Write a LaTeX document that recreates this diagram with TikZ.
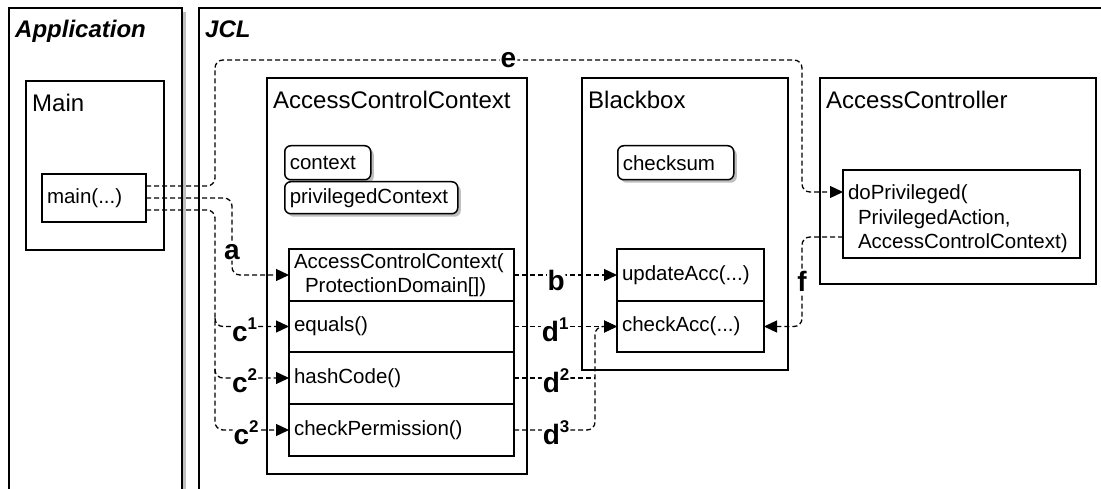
\documentclass[tikz,border=0pt]{standalone}
\usepackage{fontspec}
\setmainfont{Liberation Sans}
\usetikzlibrary{arrows.meta,calc,positioning,shadows}
\newcommand{\namefont}{\fontsize{24}{28}\selectfont}
\newcommand{\memberfont}{\fontsize{20.5}{24.5}\selectfont}
\newcommand{\flowfont}{\fontsize{28}{30}\selectfont\bfseries}
\newcommand{\flowsup}[1]{\raisebox{12pt}{\fontsize{17}{17}\selectfont#1}}

\begin{document}
\begin{tikzpicture}[x=1pt,y=-1pt,
  tierbox/.style={draw,line width=1.7pt,fill=white,anchor=north west,inner sep=0pt,
    drop shadow={shadow xshift=4pt,shadow yshift=-4pt,fill=black!25,opacity=1}},
  tiername/.style={anchor=base west,inner sep=0pt,font=\namefont\bfseries\itshape},
  classbox/.style={draw,line width=1.7pt,fill=white,anchor=north west,inner sep=0pt},
  classname/.style={anchor=base west,inner sep=0pt,font=\namefont},
  attrbox/.style={draw,line width=1.5pt,rounded corners=6pt,fill=white,anchor=north west,
    inner xsep=5pt,inner ysep=0pt,minimum height=34pt,align=left,font=\memberfont,
    drop shadow={shadow xshift=3pt,shadow yshift=-3pt,fill=black!25,opacity=1}},
  methodrow/.style={draw,line width=1.5pt,fill=white,anchor=north west,outer sep=0pt,
    inner xsep=5pt,inner ysep=0pt,align=left,font=\memberfont},
  flow/.style={line width=1.3pt,dash pattern=on 5pt off 3pt,rounded corners=8pt,
    -{Triangle[length=13pt,width=12pt]}},
  flowlabel/.style={fill=white,inner sep=1pt,font=\flowfont}]
  \useasboundingbox (0,0) rectangle (1101,489);

  % application and library tiers
  \node[tierbox,minimum width=173pt,minimum height=540pt] (app) at (8,7) {};
  \node[tierbox,minimum width=950pt,minimum height=540pt] (jcl) at (198,7) {};
  \node[tiername] at ($(app.north west)+(7,31)$) {Application};
  \node[tiername] at ($(jcl.north west)+(7,31)$) {JCL};

  % Main
  \node[classbox,minimum width=138pt,minimum height=169pt] (main) at (25,80) {};
  \node[classname] at ($(main.north west)+(7,32)$) {Main};
  \node[methodrow,text width=94pt,minimum height=48pt] (mainfn) at (42,174) {main(...)};

  % AccessControlContext
  \node[classbox,minimum width=260pt,minimum height=396pt] (acc) at (266,77) {};
  \node[classname] at ($(acc.north west)+(7,32)$) {AccessControlContext};
  \node[attrbox,text width=76pt] (ctx) at (284,145) {context};
  \node[attrbox,text width=163pt,minimum height=32pt] (pctx) at (284,181) {privilegedContext};
  \node[methodrow,text width=215pt,minimum height=52pt] (ctor) at (289,249)
    {AccessControlContext(\\\hspace*{11pt}ProtectionDomain[])};
  \node[methodrow,text width=215pt,minimum height=51pt,below=0pt of ctor] (equals) {equals()};
  \node[methodrow,text width=215pt,minimum height=52pt,below=0pt of equals] (hash) {hashCode()};
  \node[methodrow,text width=215pt,minimum height=52pt,below=0pt of hash] (chkperm) {checkPermission()};

  % Blackbox
  \node[classbox,minimum width=206pt,minimum height=292pt] (bb) at (581,77) {};
  \node[classname] at ($(bb.north west)+(7,32)$) {Blackbox};
  \node[attrbox,text width=106pt] (cks) at (617,145) {checksum};
  \node[methodrow,text width=137pt,minimum height=52pt] (upd) at (617,249) {updateAcc(...)};
  \node[methodrow,text width=137pt,minimum height=51pt,below=0pt of upd] (chk) {checkAcc(...)};

  % AccessController
  \node[classbox,minimum width=276pt,minimum height=206pt] (ac) at (819,77) {};
  \node[classname] at ($(ac.north west)+(7,32)$) {AccessController};
  \node[methodrow,text width=227pt,minimum height=88pt] (dopriv) at (843,170)
    {\rule{0pt}{25pt}doPrivileged(\\\hspace*{10pt}PrivilegedAction,\\\hspace*{10pt}AccessControlContext)};

  \coordinate (dbus) at ($(chk.west)+(-22,0)$);

  % calls
  \draw[flow] ($(mainfn.east)+(0,-12)$) -| (215,60) -- node[flowlabel]{e} (802,60)
    |- ($(dopriv.north west)+(0,22)$);
  \draw[flow] (mainfn.east) -| node[flowlabel,pos=.85]{a} ($(ctor.west)+(-57,0)$) -- (ctor.west);
  \draw[flow] ($(mainfn.east)+(0,12)$) -| ($(chkperm.west)+(-74,0)$)
    -- node[flowlabel,pos=.42,yshift=-3pt]{c\flowsup{2}} (chkperm.west);
  \draw[flow] (215,318) |- node[flowlabel,pos=.7,yshift=-3pt]{c\flowsup{1}} (equals.west);
  \draw[flow] (215,369) |- node[flowlabel,pos=.7,yshift=-3pt]{c\flowsup{2}} (hash.west);
  \draw[flow] (ctor.east) -- node[flowlabel,pos=.41,yshift=-5pt]{b} (upd.west);
  \draw[flow] (equals.east) -- node[flowlabel,pos=.4,yshift=-3pt]{d\flowsup{1}} (chk.west);
  \draw[flow,-] (hash.east) -- node[flowlabel,pos=.52,yshift=-3pt]{d\flowsup{2}} (hash.east -| dbus);
  \draw[flow] (chkperm.east) -| node[flowlabel,pos=.26,yshift=-3pt]{d\flowsup{3}} (dbus) -- (chk.west);
  \draw[flow] ($(dopriv.north west)+(0,67)$) -| node[flowlabel,pos=.75]{f} ($(chk.east)+(38,0)$)
    -- (chk.east);
\end{tikzpicture}
\end{document}
